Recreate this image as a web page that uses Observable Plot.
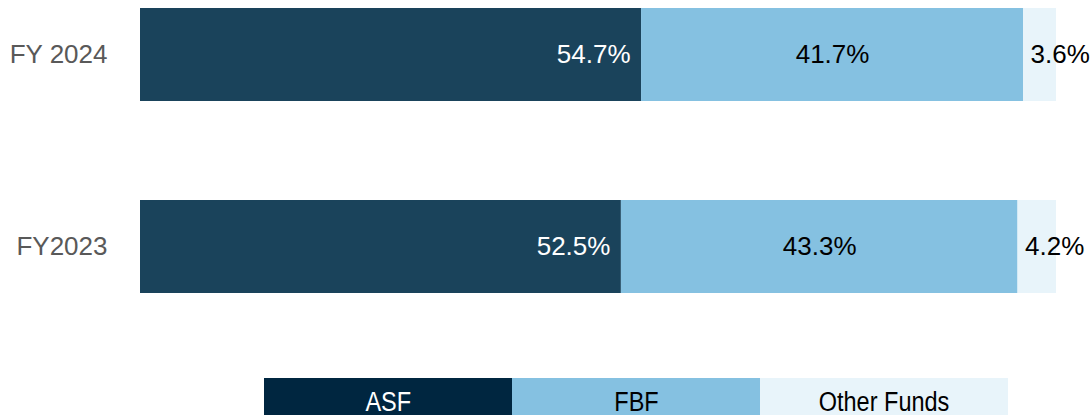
<!DOCTYPE html>
<html>
<head>
<meta charset="utf-8">
<script src="https://cdn.jsdelivr.net/npm/d3@7"></script>
<script src="https://cdn.jsdelivr.net/npm/@observablehq/plot@0.6"></script>
<style>
  html, body { margin: 0; padding: 0; background: #fff; overflow: hidden; }
  #chart svg { display: block; }
  .legend { display: flex; margin-left: 264px; }
  .legend div { width: 248px; height: 48px; line-height: 48px; text-align: center;
    font-family: "Liberation Sans Narrow", "Arial Narrow", "Liberation Sans", Arial, sans-serif;
    font-size: 27px; }
  .legend span { display: inline-block; transform: scaleX(0.87); }
</style>
</head>
<body>
<div id="chart"></div>
<div class="legend" id="legend"></div>
<script>
const years = ["FY 2024", "FY2023"];
const funds = ["ASF", "FBF", "Other Funds"];
const asf = [54.7, 52.5];
const fbf = [41.7, 43.3];
const other = [3.6, 4.2];

const barColors = ["#1a435b", "#85c1e1", "#e8f4fa"];
const legendColors = ["#002640", "#85c1e1", "#e8f4fa"];
const legendText = ["#ffffff", "#000000", "#000000"];

const series = [asf, fbf, other];
const rows = [];
years.forEach((y, i) => {
  funds.forEach((f, j) => rows.push({year: y, fund: f, value: series[j][i]}));
});
const lab = d => d.value.toFixed(1) + "%";

const plot = Plot.plot({
  width: 1092,
  height: 378,
  marginLeft: 140,
  marginRight: 36,
  marginTop: 0,
  marginBottom: 77,
  style: {fontFamily: "'Liberation Sans', Arial, sans-serif", background: "#fff"},
  x: {domain: [0, 100], axis: null},
  y: {domain: years, paddingInner: 0.516, paddingOuter: 0.0417, label: null},
  color: {domain: funds, range: barColors},
  marks: [
    Plot.barX(rows, Plot.stackX({x: "value", y: "year", fill: "fund", z: "fund", order: funds})),
    Plot.textX(rows, Plot.stackX2({x: "value", y: "year", z: "fund", order: funds,
      text: d => d.fund === "ASF" ? lab(d) : "", textAnchor: "end", dx: -11,
      fill: "#ffffff", fontSize: 26})),
    Plot.textX(rows, Plot.stackX({x: "value", y: "year", z: "fund", order: funds,
      text: d => d.fund === "FBF" ? lab(d) : "", textAnchor: "middle",
      fill: "#000000", fontSize: 26})),
    Plot.textX(rows, Plot.stackX1({x: "value", y: "year", z: "fund", order: funds,
      text: d => d.fund === "Other Funds" ? lab(d) : "", textAnchor: "start", dx: 7,
      fill: "#000000", fontSize: 26})),
    Plot.axisY({tickSize: 0, tickPadding: 33, fontSize: 26, fill: "#595959", label: null})
  ]
});
document.getElementById("chart").appendChild(plot);

const lg = document.getElementById("legend");
funds.forEach((f, j) => {
  const d = document.createElement("div");
  const s = document.createElement("span");
  s.textContent = f;
  d.appendChild(s);
  d.style.background = legendColors[j];
  d.style.color = legendText[j];
  lg.appendChild(d);
});
</script>
</body>
</html>
